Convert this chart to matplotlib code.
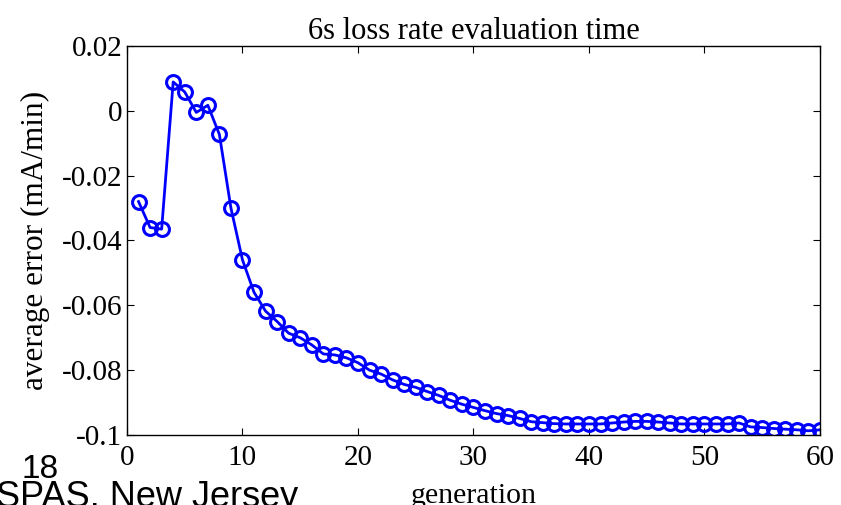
import matplotlib
matplotlib.use("Agg")
import matplotlib.pyplot as plt

plt.rcParams["font.family"] = ["Liberation Serif", "DejaVu Serif"]
plt.rcParams["axes.unicode_minus"] = False

# average error per generation
generation = list(range(1, 61))
avg_error = [-0.028, -0.036, -0.0365, 0.0089, 0.0058, -0.0005, 0.0017, -0.0073, -0.030, -0.046,
             -0.056, -0.0618, -0.065, -0.0686, -0.070, -0.0722, -0.075, -0.0753, -0.0762, -0.0777,
             -0.080, -0.0812, -0.083, -0.0844, -0.0853, -0.0866, -0.0878, -0.0893, -0.0905, -0.0915,
             -0.0925, -0.0934, -0.094, -0.0949, -0.0959, -0.0962, -0.0965, -0.0966, -0.0966, -0.0966,
             -0.0966, -0.0963, -0.096, -0.0958, -0.0958, -0.096, -0.0963, -0.0966, -0.0966, -0.0966,
             -0.0966, -0.0966, -0.0963, -0.0975, -0.0977, -0.098, -0.0982, -0.0984, -0.0987, -0.0984]

x_ticks = [0, 10, 20, 30, 40, 50, 60]
y_ticks = [-0.1, -0.08, -0.06, -0.04, -0.02, 0, 0.02]
y_tick_labels = ["-0.1", "-0.08", "-0.06", "-0.04", "-0.02", "0", "0.02"]

fig = plt.figure(figsize=(8.41, 5.05), dpi=100)
ax = fig.add_axes([0.151, 0.1386, 0.824, 0.7704])

ax.plot(generation, avg_error, color="#0000ff", linewidth=2.0, marker="o",
        markersize=10, markerfacecolor="none", markeredgewidth=2.2)

ax.set_xlim(0, 60)
ax.set_ylim(-0.1, 0.02)
ax.set_xticks(x_ticks)
ax.set_yticks(y_ticks)
ax.set_yticklabels(y_tick_labels)
ax.tick_params(direction="in", length=5, width=0.8, top=True, right=True,
               labelsize=21)
ax.tick_params(axis="x", pad=7)
for s in ax.spines.values():
    s.set_linewidth(1.0)

ax.set_title("6s loss rate evaluation time", fontsize=22, pad=5)
ax.set_xlabel("generation", fontsize=21.5, labelpad=9)
ax.set_ylabel("average error (mA/min)", fontsize=22.5, labelpad=8)

# bits of the slide around the chart
fig.text(22 / 841, 1 - 478 / 505, "18", fontsize=24, family="Liberation Sans",
         va="baseline", ha="left")
fig.text(-4 / 841, 1 - 507 / 505, "SPAS, New Jersey", fontsize=26,
         family="Liberation Sans", va="baseline", ha="left")

fig.savefig("out.png", dpi=100)
